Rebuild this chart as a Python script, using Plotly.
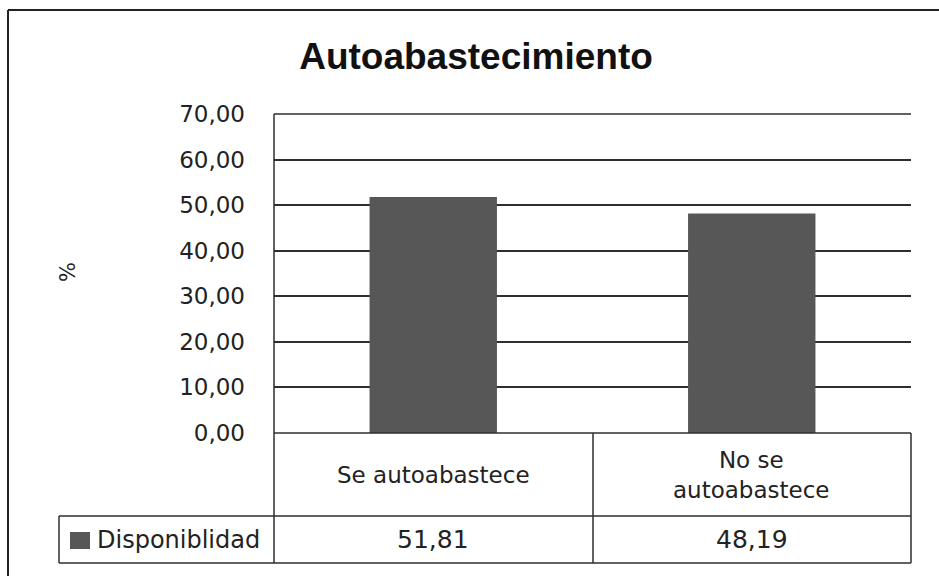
import plotly.graph_objects as go

# ---- data ----
categories = ["Se autoabastece", "No se autoabastece"]
category_labels = ["Se autoabastece", "No se<br>autoabastece"]
series_name = "Disponiblidad"
values = [51.81, 48.19]
y_ticks = [0, 10, 20, 30, 40, 50, 60, 70]
title_text = "Autoabastecimiento"
y_title = "%"

FONT = "DejaVu Sans"
LINE = "#2e2e2e"
BAR = "#575757"

fig = go.Figure()
fig.add_trace(go.Bar(
    x=categories, y=values, name=series_name,
    marker=dict(color=BAR, line=dict(width=0)),
    showlegend=False, hoverinfo="x+y",
))

W, H = 939, 576
L, R, T, B = 274, 28, 114, 143
pw, ph = W - L - R, H - T - B


def px_x(X):
    return (X - L) / pw


def px_y(Y):
    return (H - B - Y) / ph


shapes = []
# outer frame (top and left)
shapes.append(dict(type="line", xref="paper", yref="paper", x0=px_x(8), x1=px_x(945),
                   y0=px_y(10), y1=px_y(10), line=dict(color="#222222", width=2)))
shapes.append(dict(type="line", xref="paper", yref="paper", x0=px_x(8), x1=px_x(8),
                   y0=px_y(10), y1=px_y(590), line=dict(color="#222222", width=2)))
# top gridline of plot area
shapes.append(dict(type="line", xref="paper", yref="paper", x0=0, x1=1, y0=1, y1=1,
                   line=dict(color=LINE, width=1.5)))
# data table grid
tbl_top, row_sep, tbl_bot = 433, 516, 563
leg_left, col_div, tbl_right = 59, 593, 911
for y in (tbl_top, row_sep):
    shapes.append(dict(type="line", xref="paper", yref="paper",
                       x0=px_x(leg_left if y == row_sep else L), x1=px_x(tbl_right),
                       y0=px_y(y), y1=px_y(y), line=dict(color=LINE, width=1.5)))
shapes.append(dict(type="line", xref="paper", yref="paper", x0=px_x(leg_left), x1=px_x(tbl_right),
                   y0=px_y(tbl_bot), y1=px_y(tbl_bot), line=dict(color=LINE, width=1.5)))
shapes.append(dict(type="line", xref="paper", yref="paper", x0=px_x(leg_left), x1=px_x(leg_left),
                   y0=px_y(row_sep), y1=px_y(tbl_bot), line=dict(color=LINE, width=1.5)))
for xv in (L, col_div, tbl_right):
    shapes.append(dict(type="line", xref="paper", yref="paper", x0=px_x(xv), x1=px_x(xv),
                       y0=px_y(tbl_top) if xv != L else 1, y1=px_y(tbl_bot),
                       line=dict(color=LINE, width=1.5)))
# legend key
shapes.append(dict(type="rect", xref="paper", yref="paper", x0=px_x(70), x1=px_x(90),
                   y0=px_y(532), y1=px_y(549), fillcolor=BAR, line=dict(width=0)))

annotations = []
row1_mid = px_y((tbl_top + row_sep) / 2)
row2_mid = px_y((row_sep + tbl_bot) / 2)
for cat, lab, v in zip(categories, category_labels, values):
    annotations.append(dict(x=cat, xref="x", y=row1_mid, yref="paper", text=lab,
                            showarrow=False, font=dict(family=FONT, size=23, color="#222222"),
                            xanchor="center", yanchor="middle", align="center"))
    annotations.append(dict(x=cat, xref="x", y=row2_mid, yref="paper",
                            text=f"{v:.2f}".replace(".", ","),
                            showarrow=False, font=dict(family=FONT, size=25, color="#222222"),
                            xanchor="center", yanchor="middle"))
annotations.append(dict(x=px_x(95), xref="paper", y=row2_mid, yref="paper", text=series_name,
                        showarrow=False, font=dict(family=FONT, size=24, color="#222222"),
                        xanchor="left", yanchor="middle"))
annotations.append(dict(x=px_x(68), xref="paper", y=px_y(272), yref="paper", text=y_title,
                        showarrow=False, textangle=-90, font=dict(family=FONT, size=21, color="#222222"),
                        xanchor="center", yanchor="middle"))

fig.update_layout(
    width=W, height=H,
    margin=dict(l=L, r=R, t=T, b=B, pad=0),
    paper_bgcolor="white", plot_bgcolor="white",
    separators=",.",
    bargap=0.6,
    title=dict(text=f"<b>{title_text}</b>", x=476 / W, xref="container", xanchor="center",
               y=1 - 56 / H, yref="container", yanchor="middle",
               font=dict(family="Liberation Sans", size=37, color="#111111")),
    xaxis=dict(showticklabels=False, showgrid=False, zeroline=False, showline=False,
               ticks=""),
    yaxis=dict(range=[0, 70], tickvals=y_ticks, tickformat=".2f",
               showgrid=True, gridcolor=LINE, gridwidth=1.5,
               zeroline=False, showline=False, ticks="", ticklabelstandoff=28,
               tickfont=dict(family=FONT, size=23, color="#222222")),
    shapes=shapes,
    annotations=annotations,
    showlegend=False,
)

fig.write_html(
    "out.html",
    config={"displayModeBar": False},
    post_script="document.body.style.margin='0';document.body.style.overflow='hidden';",
)
